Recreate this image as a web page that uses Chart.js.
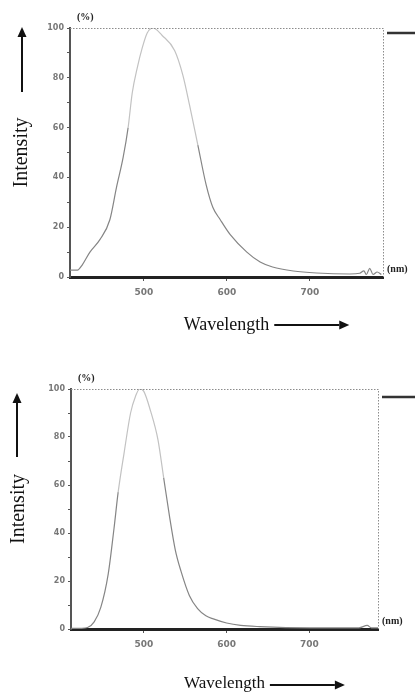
<!DOCTYPE html>
<html>
<head>
<meta charset="utf-8">
<script src="https://cdn.jsdelivr.net/npm/chart.js@4.4.1/dist/chart.umd.min.js"></script>
<style>
  html, body { margin: 0; padding: 0; background: #fff; }
  #wrap { position: relative; width: 415px; height: 694px; }
  .box { position: absolute; left: 0; width: 415px; }
  #box1 { top: 0; height: 340px; }
  #box2 { top: 340px; height: 354px; }
</style>
</head>
<body>
<div id="wrap">
  <div class="box" id="box1"><canvas id="chart1" width="415" height="340"></canvas></div>
  <div class="box" id="box2"><canvas id="chart2" width="415" height="354"></canvas></div>
</div>
<script>
// upper spectrum (nm, %)
const wavelength1 = [411, 420, 426, 435, 447, 459, 467, 475, 481, 486, 492, 498, 504, 511, 522, 537, 547, 555, 565, 575,
                     583, 592, 604, 624, 640, 655, 680, 708, 748, 760, 765, 768, 772, 776, 781, 786];
const intensity1  = [2.8, 2.8, 5, 10, 15, 23, 36, 48, 60, 74, 84, 92, 98, 100, 97, 91, 81, 69, 53, 37,
                     28, 23, 17, 10, 6, 4, 2.4, 1.6, 1.2, 1.5, 2.5, 1, 3.5, 1, 2, 1];

// lower spectrum (nm, %)
const wavelength2 = [412, 425, 432, 440, 448, 457, 464, 469, 476, 484, 490, 495, 500, 508, 517, 524, 531, 538, 545,
                     555, 565, 575, 584, 600, 617, 640, 700, 760, 770, 775, 783];
const intensity2  = [0.3, 0.3, 0.6, 3, 9, 23, 42, 57, 73, 90, 97, 100, 99, 91, 79, 63, 47, 33, 24,
                     14, 8.5, 5.5, 4.2, 2.5, 1.5, 1, 0.5, 0.5, 1.5, 0.5, 0.5];

const xTicks = [500, 600, 700];
const yStep = 10;
const yLabelStep = 20;

function arrow(ctx, x1, y1, x2, y2) {
    const ang = Math.atan2(y2 - y1, x2 - x1);
    const head = 10, half = 4.5;
    ctx.beginPath();
    ctx.moveTo(x1, y1);
    ctx.lineTo(x2 - head * Math.cos(ang), y2 - head * Math.sin(ang));
    ctx.stroke();
    ctx.beginPath();
    ctx.moveTo(x2, y2);
    ctx.lineTo(x2 - head * Math.cos(ang) - half * Math.sin(ang), y2 - head * Math.sin(ang) + half * Math.cos(ang));
    ctx.lineTo(x2 - head * Math.cos(ang) + half * Math.sin(ang), y2 - head * Math.sin(ang) - half * Math.cos(ang));
    ctx.closePath();
    ctx.fill();
}

// frame, units, arrows and the short mark on the right
const decor = {
    id: 'decor',
    afterDraw(chart, args, o) {
        const ctx = chart.ctx;
        const a = chart.chartArea;
        ctx.save();
        ctx.strokeStyle = '#8c8c8c';
        ctx.lineWidth = 1;
        ctx.setLineDash([1.5, 1.5]);
        ctx.beginPath();
        ctx.moveTo(a.left, a.top + 0.5);
        ctx.lineTo(a.right + 0.5, a.top + 0.5);
        ctx.lineTo(a.right + 0.5, a.bottom);
        ctx.stroke();
        ctx.setLineDash([]);

        ctx.strokeStyle = '#333';
        ctx.lineWidth = 2.5;
        ctx.beginPath();
        ctx.moveTo(a.right + 4, a.top + o.markDy);
        ctx.lineTo(chart.width, a.top + o.markDy);
        ctx.stroke();

        ctx.fillStyle = '#222';
        ctx.font = 'bold 10px "Liberation Serif"';
        ctx.textBaseline = 'middle';
        ctx.textAlign = 'left';
        ctx.fillText('(%)', a.left + 7, a.top - 11);
        ctx.fillText('(nm)', a.right + 4, a.bottom - 8);

        ctx.strokeStyle = '#111';
        ctx.fillStyle = '#111';
        ctx.lineWidth = 2;
        arrow(ctx, o.yArrowX, a.top + o.yArrowTail, o.yArrowX, a.top + o.yArrowTip);

        ctx.font = o.xFont;
        const w = ctx.measureText('Wavelength').width;
        const sx = (a.left + a.right) / 2 + w / 2 + 5;
        arrow(ctx, sx, o.xArrowY, sx + 75, o.xArrowY);
        ctx.restore();
    }
};

function makeChart(id, xs, ys, cfg) {
    const points = xs.map((x, i) => ({ x: x, y: ys[i] }));
    return new Chart(document.getElementById(id), {
        type: 'line',
        data: {
            datasets: [{
                data: points,
                borderWidth: 1.2,
                pointRadius: 0,
                cubicInterpolationMode: 'monotone',
                segment: {
                    borderColor: c => ((c.p0.parsed.y + c.p1.parsed.y) / 2 > 55 ? '#c2c2c2' : '#858585')
                }
            }]
        },
        options: {
            responsive: false,
            animation: false,
            layout: { padding: { top: cfg.padTop, right: cfg.padRight, left: 0, bottom: 0 } },
            plugins: {
                legend: { display: false },
                tooltip: { enabled: false },
                decor: cfg.decor
            },
            scales: {
                x: {
                    type: 'linear',
                    min: cfg.xMin,
                    max: cfg.xMax,
                    afterBuildTicks: s => { s.ticks = xTicks.map(v => ({ value: v })); },
                    afterFit: s => { s.height = cfg.xHeight; },
                    border: { color: '#222', width: 3 },
                    grid: { drawOnChartArea: false, tickLength: 4, color: '#555' },
                    ticks: { color: '#777', font: { family: 'DejaVu Sans', size: 9, weight: 'bold' }, padding: 6, maxRotation: 0 },
                    title: {
                        display: true,
                        text: 'Wavelength',
                        color: '#111',
                        font: { family: 'Liberation Serif', size: cfg.xTitleSize },
                        padding: { top: 0, bottom: cfg.xTitlePad }
                    }
                },
                y: {
                    min: 0,
                    max: 100,
                    afterFit: s => { s.width = cfg.yWidth; },
                    border: { color: '#555', width: 2, dash: [2, 1] },
                    grid: { drawOnChartArea: false, tickLength: 3, color: '#555' },
                    ticks: {
                        stepSize: yStep,
                        color: '#777',
                        padding: 3,
                        font: { family: 'DejaVu Sans', size: 8, weight: 'bold' },
                        callback: v => (v % yLabelStep === 0 ? v : '')
                    },
                    title: {
                        display: true,
                        text: 'Intensity',
                        color: '#111',
                        font: { family: 'Liberation Serif', size: 20 },
                        padding: { top: cfg.yTitlePad, bottom: 0 }
                    }
                }
            }
        },
        plugins: [decor]
    });
}

makeChart('chart1', wavelength1, intensity1, {
    padTop: 28, padRight: 32, xMin: 411, xMax: 788,
    xHeight: 63, yWidth: 70, xTitleSize: 18, xTitlePad: 4, yTitlePad: 10,
    decor: { markDy: 5, yArrowX: 22, yArrowTail: 64, yArrowTip: -1, xArrowY: 325, xFont: '18px "Liberation Serif"' }
});

makeChart('chart2', wavelength2, intensity2, {
    padTop: 49, padRight: 37, xMin: 412, xMax: 783,
    xHeight: 65, yWidth: 71, xTitleSize: 17, xTitlePad: 0, yTitlePad: 7,
    decor: { markDy: 8, yArrowX: 17, yArrowTail: 68, yArrowTip: 4, xArrowY: 345, xFont: '17px "Liberation Serif"' }
});
</script>
</body>
</html>
